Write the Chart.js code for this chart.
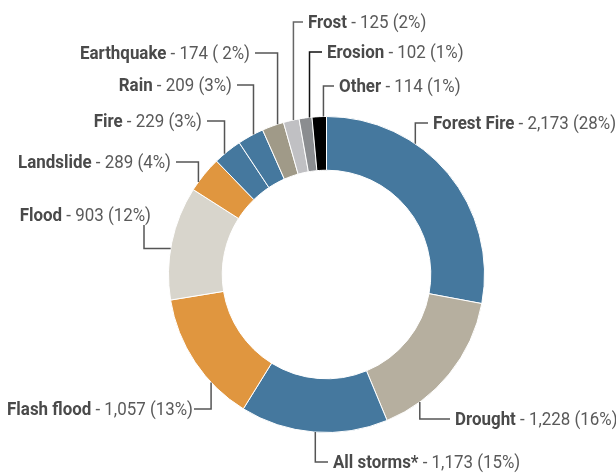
<!DOCTYPE html>
<html><head><meta charset="utf-8">
<script src="https://cdn.jsdelivr.net/npm/chart.js@4/dist/chart.umd.min.js"></script>
<style>html,body{margin:0;padding:0;background:#fff}canvas{display:block}</style>
</head><body>
<canvas id="c" width="616" height="473"></canvas>
<script>
// ---- data ----
const categories = ['Forest Fire','Drought','All storms*','Flash flood','Flood','Landslide','Fire','Rain','Earthquake','Frost','Erosion','Other'];
const values = [2173,1228,1173,1057,903,289,229,209,174,125,102,114];
const percentLabels = ['(28%)','(16%)','(15%)','(13%)','(12%)','(4%)','(3%)','(3%)','( 2%)','(2%)','(1%)','(1%)'];

// ---- styles ----
const colors = ['#45789e','#b6af9f','#45789e','#e0963f','#d8d5cc','#e0963f','#45789e','#45789e','#a09a88','#c0c0c3','#8b8d90','#000000'];
// ---- label layout (annotation placement) ----
const labelSide = ['right','right','right','left','under','left','left','left','left','right','right','right'];
const labelX = [433,455,333,193,151,171,202,232,250,308,327,339];
const labelY = [123,419,462,409,215,162,121,85,53,22,52,86];
const anchorFrac = [0.34,0.76,0.49,0.31,0.45,0.25,0.37,0.62,0.72,0.64,0.81,0.79];
const lineColors = ['#555','#555','#555','#555','#555','#555','#555','#555','#555','#666','#111','#555'];

const FONT_SIZE = 18;
const SX = 0.94;

const labelPlugin = {
  id: 'leaderLabels',
  afterDatasetsDraw(chart) {
    const ctx = chart.ctx;
    const arcs = chart.getDatasetMeta(0).data;
    ctx.save();
    arcs.forEach((arc, i) => {
      const p = arc.getProps(['x','y','startAngle','endAngle','outerRadius'], true);
      const a = p.startAngle + anchorFrac[i] * (p.endAngle - p.startAngle);
      const ax = p.x + p.outerRadius * Math.cos(a);
      const ay = p.y + p.outerRadius * Math.sin(a);
      const side = labelSide[i];
      const tx = labelX[i], ty = labelY[i];
      ctx.strokeStyle = lineColors[i];
      ctx.lineWidth = 1.5;
      ctx.beginPath();
      if (side === 'under') {
        const vx = tx - 7;
        ctx.moveTo(vx, ty + 10);
        ctx.lineTo(vx, ay);
        ctx.lineTo(ax, ay);
      } else {
        const ex = side === 'right' ? tx - 5 : tx + (i === 3 ? 1 : 5);
        ctx.moveTo(ax, ay);
        ctx.lineTo(ax, ty);
        ctx.lineTo(ex, ty);
      }
      ctx.stroke();

      const name = categories[i];
      const rest = ' - ' + values[i].toLocaleString('en-US') + ' ' + percentLabels[i];
      ctx.font = 'bold ' + FONT_SIZE + 'px Roboto';
      const wName = ctx.measureText(name).width;
      ctx.font = FONT_SIZE + 'px Roboto';
      const wRest = ctx.measureText(rest).width;
      const total = (wName + wRest) * SX;
      const startX = side === 'right' ? tx : tx - total;
      ctx.save();
      ctx.translate(startX, ty);
      ctx.scale(SX, 1);
      ctx.textBaseline = 'middle';
      ctx.textAlign = 'left';
      ctx.font = 'bold ' + FONT_SIZE + 'px Roboto';
      ctx.fillStyle = '#4a4a4a';
      ctx.fillText(name, 0, 1);
      ctx.font = FONT_SIZE + 'px Roboto';
      ctx.fillStyle = '#5a5a5a';
      ctx.fillText(rest, wName, 1);
      ctx.restore();
    });
    ctx.restore();
  }
};

new Chart(document.getElementById('c'), {
  type: 'doughnut',
  data: {
    labels: categories,
    datasets: [{
      data: values,
      backgroundColor: colors,
      borderColor: '#ffffff',
      borderWidth: 1
    }]
  },
  options: {
    responsive: false,
    animation: false,
    cutout: '66%',
    layout: { padding: { top: 116, bottom: 40, left: 168, right: 131 } },
    plugins: { legend: { display: false }, tooltip: { enabled: false } }
  },
  plugins: [labelPlugin]
});
</script>
</body></html>
